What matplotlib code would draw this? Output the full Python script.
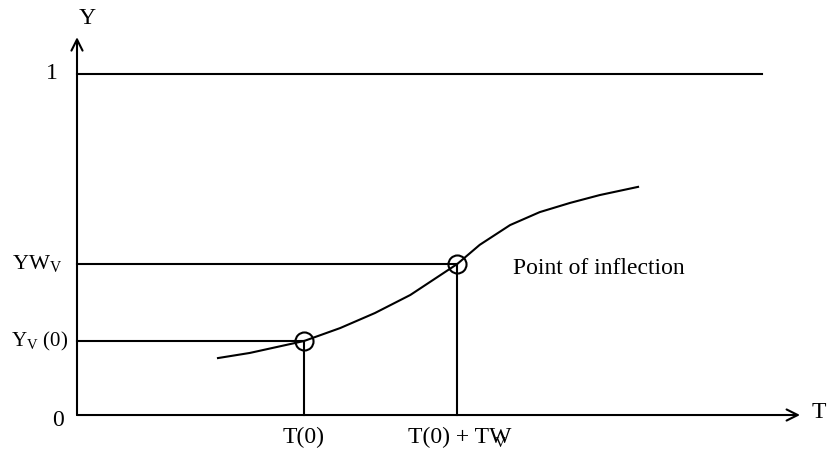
import matplotlib.pyplot as plt

plt.rcParams['font.family'] = ['Liberation Serif', 'DejaVu Serif']
plt.rcParams['mathtext.fontset'] = 'custom'
plt.rcParams['mathtext.rm'] = 'Liberation Serif'

# curve values (T in arbitrary units, Y as a fraction of 1)
t_curve = [1.95, 2.39, 3.14, 3.64, 4.12, 4.61, 5.26, 5.57, 5.99, 6.40, 6.82, 7.23, 7.76]
y_curve = [0.167, 0.182, 0.217, 0.255, 0.299, 0.352, 0.443, 0.499, 0.557, 0.595, 0.622, 0.645, 0.669]

t_start, y_start = 3.14, 0.217      # T(0), Y_V(0)
t_infl, y_infl = 5.26, 0.443        # T(0) + TW_V, YW_V
t_max = 10.0
y_one_end = 9.47

fig = plt.figure(figsize=(8.28, 4.5), dpi=100)
ax = fig.add_axes([0, 0, 1, 1])
ax.set_xlim(-1.065, 10.387)
ax.set_ylim(-0.1026, 1.217)
ax.axis('off')

lw = 1.5
# axes with arrows
ax.annotate('', xy=(0, 1.108), xytext=(0, 0),
            arrowprops=dict(arrowstyle='->', lw=lw, color='black', mutation_scale=20, shrinkA=0, shrinkB=0))
ax.annotate('', xy=(t_max, 0), xytext=(0, 0),
            arrowprops=dict(arrowstyle='->', lw=lw, color='black', mutation_scale=20, shrinkA=0, shrinkB=0))

# reference lines
ax.plot([0, y_one_end], [1, 1], color='black', lw=lw)
ax.plot([0, t_infl], [y_infl, y_infl], color='black', lw=lw)
ax.plot([0, t_start], [y_start, y_start], color='black', lw=lw)
ax.plot([t_start, t_start], [0, y_start], color='black', lw=lw)
ax.plot([t_infl, t_infl], [0, y_infl], color='black', lw=lw)

# the curve
ax.plot(t_curve, y_curve, color='black', lw=lw)
ax.plot([t_start, t_infl], [y_start, y_infl], 'o', ms=13, mfc='none', mec='black', mew=lw)

fs = 17
ax.text(0.14, 1.164, 'Y', fontsize=fs, ha='center', va='center')
ax.text(10.16, 0.006, 'T', fontsize=fs, ha='left', va='center')
ax.text(-0.35, 1.0, '1', fontsize=fs, ha='center', va='center')
ax.text(-0.26, -0.015, '0', fontsize=fs, ha='center', va='center')
ax.text(-0.21, y_infl, r'YW$_{\rm V}$', fontsize=16, ha='right', va='center')
ax.text(-0.12, y_start, r'Y$_{\rm V}$ (0)', fontsize=15, ha='right', va='center')
ax.text(t_start, -0.065, 'T(0)', fontsize=fs, ha='center', va='center')
ax.text(t_infl + 0.03, -0.065, 'T(0) + TW', fontsize=fs, ha='center', va='center')
ax.text(5.85, -0.085, 'V', fontsize=11, ha='center', va='center')
ax.text(6.03, 0.43, 'Point of inflection', fontsize=fs, ha='left', va='center')

fig.savefig('out.png', dpi=100)
